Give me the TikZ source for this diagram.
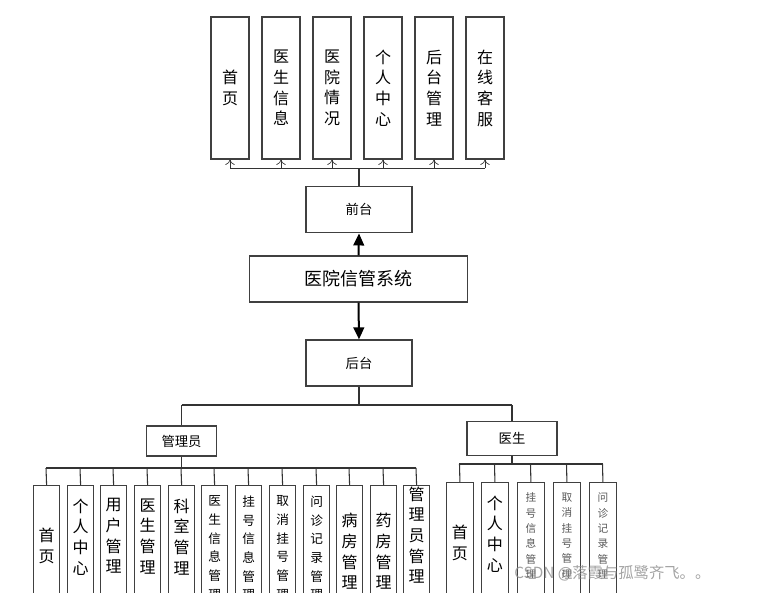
\documentclass[tikz,border=0pt]{standalone}
\usepackage{fontspec}
\setmainfont{Noto Sans CJK SC}
\usetikzlibrary{arrows.meta}
\begin{document}
\begin{tikzpicture}[x=0.75pt,y=-0.75pt,
  box/.style={draw=black!75,line width=0.9pt,fill=white,inner sep=0pt},
  conn/.style={draw=black!80,line width=0.8pt},
  vt/.style={align=center,font=\fontsize{12}{15.5}\selectfont,inner sep=0pt},
  vs/.style={align=center,font=\fontsize{9.5}{14}\selectfont,inner sep=0pt},
  vx/.style={align=center,font=\fontsize{8}{11.5}\selectfont,inner sep=0pt,text=black!65}]
\useasboundingbox (0,0) rectangle (769,593);
\clip (0,0) rectangle (769,593);
% top boxes
\foreach \i/\t in {0/首\\页,1/医\\生\\信\\息,2/医\\院\\情\\况,3/个\\人\\中\\心,4/后\\台\\管\\理,5/在\\线\\客\\服}{
  \node[box,minimum width=28.5pt,minimum height=106.5pt] (t\i) at ({230+51*\i},88) {};
  \node[vt] at ({230+51*\i},88) {\t};
}
\node[box,minimum width=79.5pt,minimum height=35pt,font=\fontsize{10}{12}\selectfont] (qt) at (359,209.5) {前台};
\node[box,minimum width=164pt,minimum height=34.5pt,font=\fontsize{13.5}{16}\selectfont] (sys) at (358.5,279) {医院信管系统};
\node[box,minimum width=79.5pt,minimum height=34.5pt,font=\fontsize{10}{12}\selectfont] (ht) at (359,363) {后台};
\coordinate (bus) at (359,168);
\draw[conn,line width=1.3pt] (qt.north) -- (bus);
\draw[conn,line width=0.5pt] (230,168) -- (485,168);
\foreach \i in {0,...,5}{
  \draw[conn,line width=0.5pt,-{To[length=4pt,width=7pt]}] ({230+51*\i},168) -- (t\i.south);
}
\draw[line width=1.5pt,-{Triangle[length=9pt,width=8pt]}] (sys.north) -- (qt.south);
\draw[line width=1.5pt,-{Triangle[length=9pt,width=8pt]}] (sys.south) -- (ht.south |- ht.north);
% admin & doctor
\node[box,minimum width=53pt,minimum height=22.5pt,font=\fontsize{10}{12}\selectfont] (adm) at (181.5,441) {管理员};
\node[box,minimum width=67.5pt,minimum height=25pt,font=\fontsize{10}{12}\selectfont] (doc) at (512,438.5) {医生};
\draw[conn] (ht.south) -- (359,405) coordinate (hb);
\draw[conn] (181.5,405) -- (512,405);
\draw[conn] (181.5,405) -- (adm.north);
\draw[conn] (512,405) -- (doc.north);
% admin children
\draw[conn,line width=1.3pt] (adm.south) -- (181.5,468);
\draw[conn] (46,468) -- (416,468);
\foreach \i/\l/\s/\t in {0/33/vt/首\\页,1/67/vt/个\\人\\中\\心,2/100/vt/用\\户\\管\\理,3/134/vt/医\\生\\管\\理,4/168/vt/科\\室\\管\\理,5/201/vs/医\\生\\信\\息\\管\\理,6/235/vs/挂\\号\\信\\息\\管\\理,7/269/vs/取\\消\\挂\\号\\管\\理,8/303/vs/问\\诊\\记\\录\\管\\理,9/336/vt/病\\房\\管\\理,10/370/vt/药\\房\\管\\理,11/403/vt/管\\理\\员\\管\\理}{
  \node[box,minimum width=19.5pt,minimum height=90pt,anchor=north west] (a\i) at (\l,485) {};
  \draw[conn] ({\l+13},468) -- (a\i.north);
}
\foreach \i/\t in {0/首\\页}{\node[vt] at (a\i.center) {\t};}
\foreach \i/\t in {1/个\\人\\中\\心,2/用\\户\\管\\理,3/医\\生\\管\\理,4/科\\室\\管\\理}{\node[vt,anchor=north] at ([yshift=-10pt]a\i.north) {\t};}
\foreach \i/\t in {5/医\\生\\信\\息\\管\\理,6/挂\\号\\信\\息\\管\\理,7/取\\消\\挂\\号\\管\\理,8/问\\诊\\记\\录\\管\\理}{\node[vs,anchor=north] at ([yshift=-8pt]a\i.north) {\t};}
\foreach \i/\t in {9/病\\房\\管\\理,10/药\\房\\管\\理}{\node[vt,anchor=north] at ([yshift=-21pt]a\i.north) {\t};}
\node[vt,anchor=north] at ([yshift=-1pt]a11.north) {管\\理\\员\\管\\理};
% doctor children
\draw[conn] (doc.south) -- (512,464);
\draw[conn] (459,464) -- (603,464);
\foreach \i/\l in {0/446,1/481,2/517,3/553,4/589}{
  \node[box,minimum width=20pt,minimum height=90pt,anchor=north west] (d\i) at (\l,482) {};
  \draw[conn] ({\l+13.5},464) -- (d\i.north);
}
\node[vt] at (d0.center) {首\\页};
\node[vt,anchor=north] at ([yshift=-10pt]d1.north) {个\\人\\中\\心};
\node[vx,anchor=north] at ([yshift=-8pt]d2.north) {挂\\号\\信\\息\\管\\理};
\node[vx,anchor=north] at ([yshift=-8pt]d3.north) {取\\消\\挂\\号\\管\\理};
\node[vx,anchor=north] at ([yshift=-8pt]d4.north) {问\\诊\\记\\录\\管\\理};
\node[text=black!45,opacity=0.8,font=\fontsize{11.5}{13}\selectfont,anchor=west,inner sep=0pt] (wm) at (514,573) {CSDN @落霞与孤鹭齐飞。。};
\end{tikzpicture}
\end{document}
